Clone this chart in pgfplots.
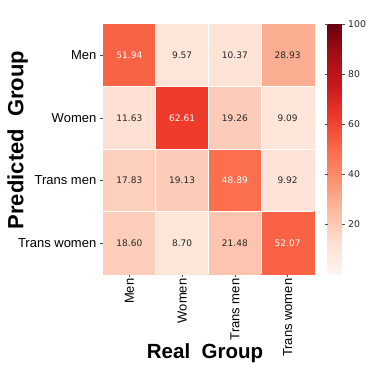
\documentclass[border=0pt]{standalone}
\usepackage{pgfplots}
\pgfplotsset{compat=1.18}
\usepackage{pgfplotstable}
\usepackage{fontspec}
\setmainfont{Liberation Sans}
\newfontfamily\dejavu{DejaVu Sans}

\pgfplotstableread{
x y v
0 0 51.94
1 0 9.57
2 0 10.37
3 0 28.93
0 1 11.63
1 1 62.61
2 1 19.26
3 1 9.09
0 2 17.83
1 2 19.13
2 2 48.89
3 2 9.92
0 3 18.60
1 3 8.70
2 3 21.48
3 3 52.07
}\datatable

\pgfplotstableread{
x y lab
0 0 51.94
1 1 62.61
2 2 48.89
3 3 52.07
}\lighttable

\pgfplotstableread{
x y lab
1 0 9.57
2 0 10.37
3 0 28.93
0 1 11.63
2 1 19.26
3 1 9.09
0 2 17.83
1 2 19.13
3 2 9.92
0 3 18.60
1 3 8.70
2 3 21.48
}\darktable

\begin{document}
\begin{tikzpicture}
\useasboundingbox (0,0) rectangle (373pt,373pt);
\begin{axis}[
  at={(103pt,99pt)}, anchor=south west,
  scale only axis, width=211pt, height=250pt,
  xmin=-0.5, xmax=3.5, ymin=-0.5, ymax=3.5, y dir=reverse,
  enlargelimits=false,
  xtick={0,1,2,3}, xticklabels={Men,Women,Trans men,Trans women},
  ytick={0,1,2,3}, yticklabels={Men,Women,Trans men,Trans women},
  xticklabel style={rotate=90, anchor=east, font=\fontsize{13}{13}\selectfont, inner sep=1.5pt},
  yticklabel style={font=\fontsize{13}{13}\selectfont, inner sep=3.5pt},
  tick align=outside, major tick length=3pt,
  tick style={black!70, line width=0.5pt},
  xtick pos=left, ytick pos=left,
  axis line style={draw=none},
  colormap={reds}{rgb255=(255,245,240) rgb255=(254,224,210) rgb255=(252,187,161) rgb255=(252,146,114) rgb255=(251,106,74) rgb255=(239,59,44) rgb255=(203,24,29) rgb255=(165,15,21) rgb255=(103,0,13)},
  point meta min=0, point meta max=100,
  colorbar,
  colorbar style={
    at={(parent axis.north east)}, anchor=north west, xshift=5pt,
    scale only axis, width=14pt,
    ytick={20,40,60,80,100},
    axis line style={draw=none},
    tick align=outside, major tick length=3pt,
    tick style={black!70, line width=0.5pt},
    /pgf/number format/assume math mode=true,
    yticklabel style={font=\dejavu\fontsize{9.3}{9.3}\selectfont, inner sep=3.5pt, text=black!85},
  },
  clip=false,
]
\addplot[matrix plot*, mesh/cols=4, point meta=explicit] table[x=x, y=y, meta=v] {\datatable};
\draw[white, line width=0.7pt] (axis cs:0.5,-0.5) -- (axis cs:0.5,3.5);
\draw[white, line width=0.7pt] (axis cs:1.5,-0.5) -- (axis cs:1.5,3.5);
\draw[white, line width=0.7pt] (axis cs:2.5,-0.5) -- (axis cs:2.5,3.5);
\draw[white, line width=0.7pt] (axis cs:-0.5,0.5) -- (axis cs:3.5,0.5);
\draw[white, line width=0.7pt] (axis cs:-0.5,1.5) -- (axis cs:3.5,1.5);
\draw[white, line width=0.7pt] (axis cs:-0.5,2.5) -- (axis cs:3.5,2.5);
\addplot[only marks, mark=none, point meta=explicit symbolic,
  nodes near coords, nodes near coords align=center,
  every node near coord/.append style={font=\dejavu\fontsize{9}{9}\selectfont, anchor=center, text=white},
] table[x=x, y=y, meta=lab] {\lighttable};
\addplot[only marks, mark=none, point meta=explicit symbolic,
  nodes near coords, nodes near coords align=center,
  every node near coord/.append style={font=\dejavu\fontsize{9}{9}\selectfont, anchor=center, text=black!85},
] table[x=x, y=y, meta=lab] {\darktable};
\end{axis}
\node[font=\bfseries\fontsize{20.5}{20.5}\selectfont, anchor=base] at (205pt,14pt) {Real\ \ Group};
\node[font=\bfseries\fontsize{22}{22}\selectfont, anchor=base, rotate=90] at (23.5pt,233pt) {Predicted\ \ Group};
\end{tikzpicture}
\end{document}
